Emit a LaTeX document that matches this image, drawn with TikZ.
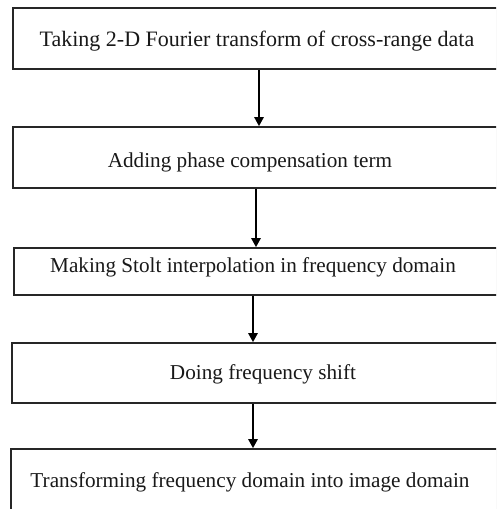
\documentclass[tikz,border=0pt]{standalone}
\usepackage{fontspec}
\setmainfont{Liberation Serif}
\usetikzlibrary{arrows.meta,shadows}
\tikzset{
  stepbox/.style={draw=black!85, line width=1.5pt, fill=white, rectangle, inner sep=0pt,
    drop shadow={shadow xshift=0.9pt, shadow yshift=-0.9pt, opacity=0.35, fill=black!60}},
  steptext/.style={anchor=base, inner sep=0pt, font=\fontsize{21.2}{25}\selectfont, text=black!90},
  bigtext/.style={steptext, font=\fontsize{22}{26}\selectfont},
  arr/.style={line width=2.3pt, draw=black, -{Triangle[width=9pt,length=9pt]}}
}
\begin{document}
\begin{tikzpicture}[x=1pt,y=1pt]
\useasboundingbox (0,0) rectangle (496,509);
\clip (0,0) rectangle (496,509);
\fill[white] (0,0) rectangle (496,509);
\node[stepbox, minimum width=497pt, minimum height=61pt] (s1) at (261.5,470.5) {};
\node[stepbox, minimum width=497pt, minimum height=61pt] (s2) at (261.5,351.5) {};
\node[stepbox, minimum width=496pt, minimum height=47pt] (s3) at (262,237.5) {};
\node[stepbox, minimum width=498pt, minimum height=60pt] (s4) at (261,136) {};
\node[stepbox, minimum width=499pt, minimum height=81pt] (s5) at (260.5,19.5) {};
\node[bigtext] (t1) at (257,462) {Taking 2-D Fourier transform of cross-range data};
\node[steptext] (t2) at (250,341) {Adding phase compensation term};
\node[steptext] (t3) at (253,236) {Making Stolt interpolation in frequency domain};
\node[steptext] (t4) at (263,129) {Doing frequency shift};
\node[steptext] (t5) at (250,21) {Transforming frequency domain into image domain};
\coordinate (a1) at (259,0);
\coordinate (a2) at (256,0);
\coordinate (a3) at (253,0);
\coordinate (a4) at (253,0);
\draw[arr] (s1.south -| a1) -- (s2.north -| a1);
\draw[arr] (s2.south -| a2) -- (s3.north -| a2);
\draw[arr] (s3.south -| a3) -- (s4.north -| a3);
\draw[arr] (s4.south -| a4) -- (s5.north -| a4);
\end{tikzpicture}
\end{document}
